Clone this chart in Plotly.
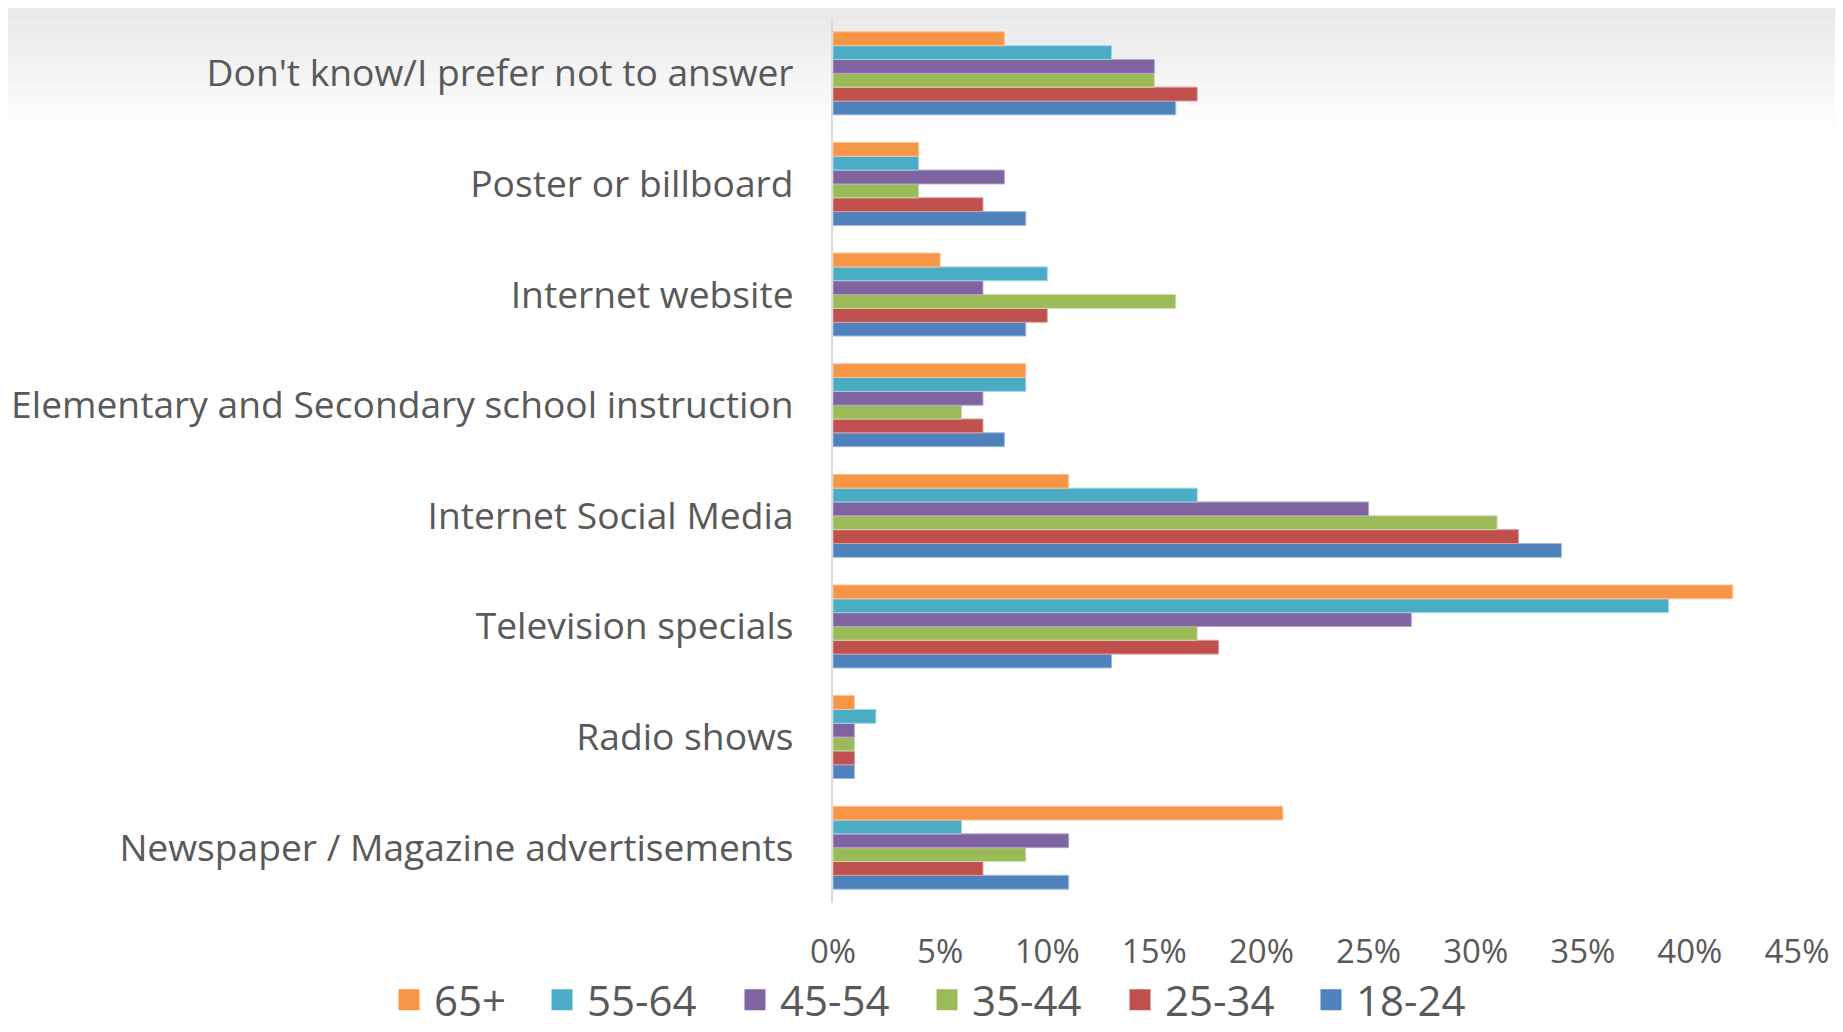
import plotly.graph_objects as go

categories = ["Newspaper / Magazine advertisements", "Radio shows", "Television specials",
              "Internet Social Media", "Elementary and Secondary school instruction",
              "Internet website", "Poster or billboard", "Don't know/I prefer not to answer"]

series_names = ["18-24", "25-34", "35-44", "45-54", "55-64", "65+"]
v_18_24 = [11, 1, 13, 34, 8, 9, 9, 16]
v_25_34 = [7, 1, 18, 32, 7, 10, 7, 17]
v_35_44 = [9, 1, 17, 31, 6, 16, 4, 15]
v_45_54 = [11, 1, 27, 25, 7, 7, 8, 15]
v_55_64 = [6, 2, 39, 17, 9, 10, 4, 13]
v_65p = [21, 1, 42, 11, 9, 5, 4, 8]
series_values = [v_18_24, v_25_34, v_35_44, v_45_54, v_55_64, v_65p]
colors = ["#4F81BD", "#C0504D", "#9BBB59", "#8064A2", "#4BACC6", "#F79646"]
edge = ["#9db8dc", "#dc9a98", "#c9dca6", "#b4a2cc", "#9dd3e2", "#fbc49a"]
legend_ids = ["legend6", "legend5", "legend4", "legend3", "legend2", "legend"]

OFF = 8  # page body margin
W, H = 1843 - OFF, 1032 - OFF
ml, mr, mt, mb = 825, 46, 10, 129
ph = H - mt - mb
pw = W - ml - mr

fig = go.Figure()
for name, vals, c, e in zip(series_names, series_values, colors, edge):
    fig.add_trace(go.Bar(y=categories, x=vals, name=name, orientation="h", legendgroup=name,
                         showlegend=False,
                         marker=dict(color=c, line=dict(color=e, width=1))))
for name, c, lg in zip(series_names, colors, legend_ids):
    fig.add_trace(go.Scatter(x=[None], y=[None], mode="markers", name=name,
                             legendgroup=name, legend=lg,
                             marker=dict(symbol="square", size=24, color=c,
                                         line=dict(width=5, color=c)),
                             hoverinfo="skip"))

def to_paper_y(py):
    # py in page pixels
    return (H - mb - (py - OFF)) / ph

# slide-like gradient background at top
shapes = []
n = 30
for i in range(n):
    t = i / (n - 1)
    g = int(232 + (255 - 232) * t)
    y_top = 5 + (135 - 5) * i / n
    y_bot = 5 + (135 - 5) * (i + 1) / n
    shapes.append(dict(type="rect", xref="paper", yref="paper",
                       x0=-(ml + OFF) / pw, x1=1 + mr / pw,
                       y0=to_paper_y(y_bot), y1=to_paper_y(y_top),
                       fillcolor=f"rgb({g},{g},{g})", line=dict(width=0), layer="below"))

leg_common = dict(orientation="h", xref="container",
                  xanchor="left", y=to_paper_y(1000), yref="paper", yanchor="middle",
                  font=dict(size=42, color="#595959"), itemwidth=40, itemsizing="trace",
                  bgcolor="rgba(0,0,0,0)")
# page x of each legend marker centre: 65+, 55-64, 45-54, 35-44, 25-34, 18-24
marker_centres = [409, 562, 755, 947, 1140, 1331]
legends = {}
for lid, mc in zip(["legend", "legend2", "legend3", "legend4", "legend5", "legend6"], marker_centres):
    legends[lid] = dict(x=(mc - 25 - OFF) / W, **leg_common)

fig.update_layout(
    width=W, height=H,
    margin=dict(l=ml, r=mr, t=mt, b=mb, autoexpand=False),
    paper_bgcolor="white", plot_bgcolor="rgba(0,0,0,0)",
    barmode="group", bargap=0.25, bargroupgap=0,
    font=dict(family="Open Sans, sans-serif", color="#595959"),
    shapes=shapes,
    showlegend=True,
    xaxis=dict(range=[0, 45], dtick=5, ticksuffix="%", showgrid=False, zeroline=False,
               showline=False, tickfont=dict(size=33, color="#595959"),
               ticklabelstandoff=26, fixedrange=True),
    yaxis=dict(showgrid=False, zeroline=False, showline=True, linecolor="#d9d9d9", linewidth=2,
               tickfont=dict(size=37.2, color="#595959"), ticklabelstandoff=30,
               range=[-0.5, 7.5], fixedrange=True, type="category"),
    **legends,
)
fig.write_html("out.html")
